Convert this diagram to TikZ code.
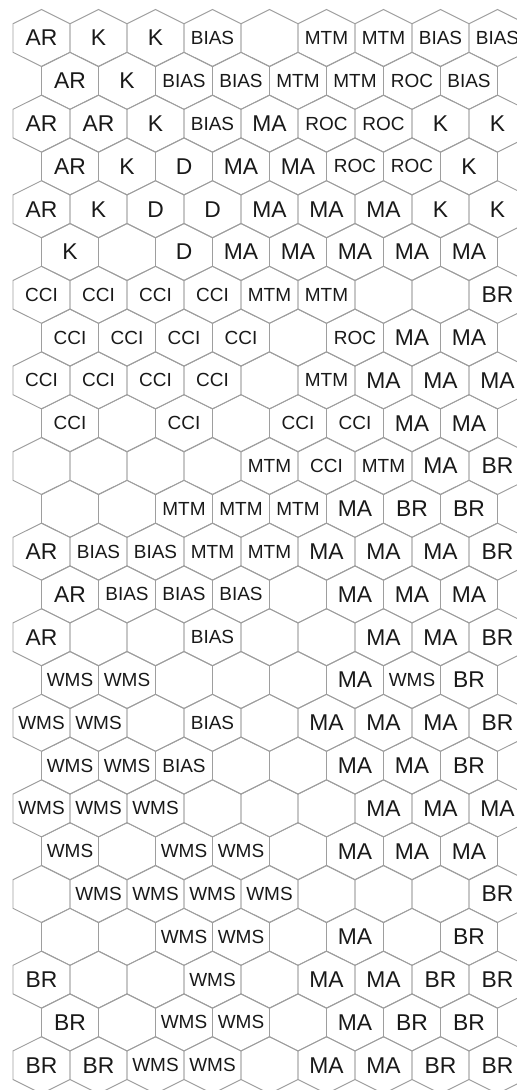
\documentclass[tikz,border=0pt]{standalone}
\usepackage{fontspec}
\setmainfont{Liberation Sans}
\usetikzlibrary{calc}
\def\emptycell{-}
\tikzset{
  hexline/.style={draw=black!38, line width=0.55pt, line join=miter},
  bigtxt/.style={font=\fontsize{13}{13}\selectfont, text=black!90, inner sep=0pt},
  smalltxt/.style={font=\fontsize{10.8}{11}\selectfont, text=black!90, inner sep=0pt},
  lab/AR/.style={bigtxt}, lab/K/.style={bigtxt}, lab/D/.style={bigtxt},
  lab/MA/.style={bigtxt}, lab/BR/.style={bigtxt},
  lab/BIAS/.style={smalltxt}, lab/MTM/.style={smalltxt}, lab/ROC/.style={smalltxt},
  lab/CCI/.style={smalltxt}, lab/WMS/.style={smalltxt}
}

\begin{document}
\begin{tikzpicture}[x=0.02cm, y=-0.02cm]
  \useasboundingbox (0,0) rectangle (517,1090);
  \clip (0,0) rectangle (517,1090);
  % honeycomb: 9 cells in even rows, 8 in odd rows
  \foreach \r in {0,...,24} {
    \pgfmathtruncatemacro\odd{mod(\r,2)}
    \pgfmathtruncatemacro\last{8-\odd}
    \foreach \c in {0,...,\last} {
      \pgfmathsetmacro\x{41.5+57*\c+28.5*\odd}
      \pgfmathsetmacro\y{38+42.8*\r}
      \draw[hexline, shift={(\x,\y)}] (0,-28.5) -- (28.5,-14.3) -- (28.5,14.3)
        -- (0,28.5) -- (-28.5,14.3) -- (-28.5,-14.3) -- cycle;
    }
  }
  % cell labels, row by row (- = empty cell)
  \foreach \row [count=\r from 0] in {
      {AR,K,K,BIAS,-,MTM,MTM,BIAS,BIAS},
      {AR,K,BIAS,BIAS,MTM,MTM,ROC,BIAS},
      {AR,AR,K,BIAS,MA,ROC,ROC,K,K},
      {AR,K,D,MA,MA,ROC,ROC,K},
      {AR,K,D,D,MA,MA,MA,K,K},
      {K,-,D,MA,MA,MA,MA,MA},
      {CCI,CCI,CCI,CCI,MTM,MTM,-,-,BR},
      {CCI,CCI,CCI,CCI,-,ROC,MA,MA},
      {CCI,CCI,CCI,CCI,-,MTM,MA,MA,MA},
      {CCI,-,CCI,-,CCI,CCI,MA,MA},
      {-,-,-,-,MTM,CCI,MTM,MA,BR},
      {-,-,MTM,MTM,MTM,MA,BR,BR},
      {AR,BIAS,BIAS,MTM,MTM,MA,MA,MA,BR},
      {AR,BIAS,BIAS,BIAS,-,MA,MA,MA},
      {AR,-,-,BIAS,-,-,MA,MA,BR},
      {WMS,WMS,-,-,-,MA,WMS,BR},
      {WMS,WMS,-,BIAS,-,MA,MA,MA,BR},
      {WMS,WMS,BIAS,-,-,MA,MA,BR},
      {WMS,WMS,WMS,-,-,-,MA,MA,MA},
      {WMS,-,WMS,WMS,-,MA,MA,MA},
      {-,WMS,WMS,WMS,WMS,-,-,-,BR},
      {-,-,WMS,WMS,-,MA,-,BR},
      {BR,-,-,WMS,-,MA,MA,BR,BR},
      {BR,-,WMS,WMS,-,MA,BR,BR},
      {BR,BR,WMS,WMS,-,MA,MA,BR,BR}} {
    \pgfmathtruncatemacro\odd{mod(\r,2)}
    \foreach \l [count=\c from 0] in \row {
      \ifx\l\emptycell\else
        \pgfmathsetmacro\x{41.5+57*\c+28.5*\odd}
        \pgfmathsetmacro\y{38+42.8*\r}
        \node[lab/\l] (c\r-\c) at (\x,\y) {\l};
      \fi
    }
  }
\end{tikzpicture}
\end{document}
